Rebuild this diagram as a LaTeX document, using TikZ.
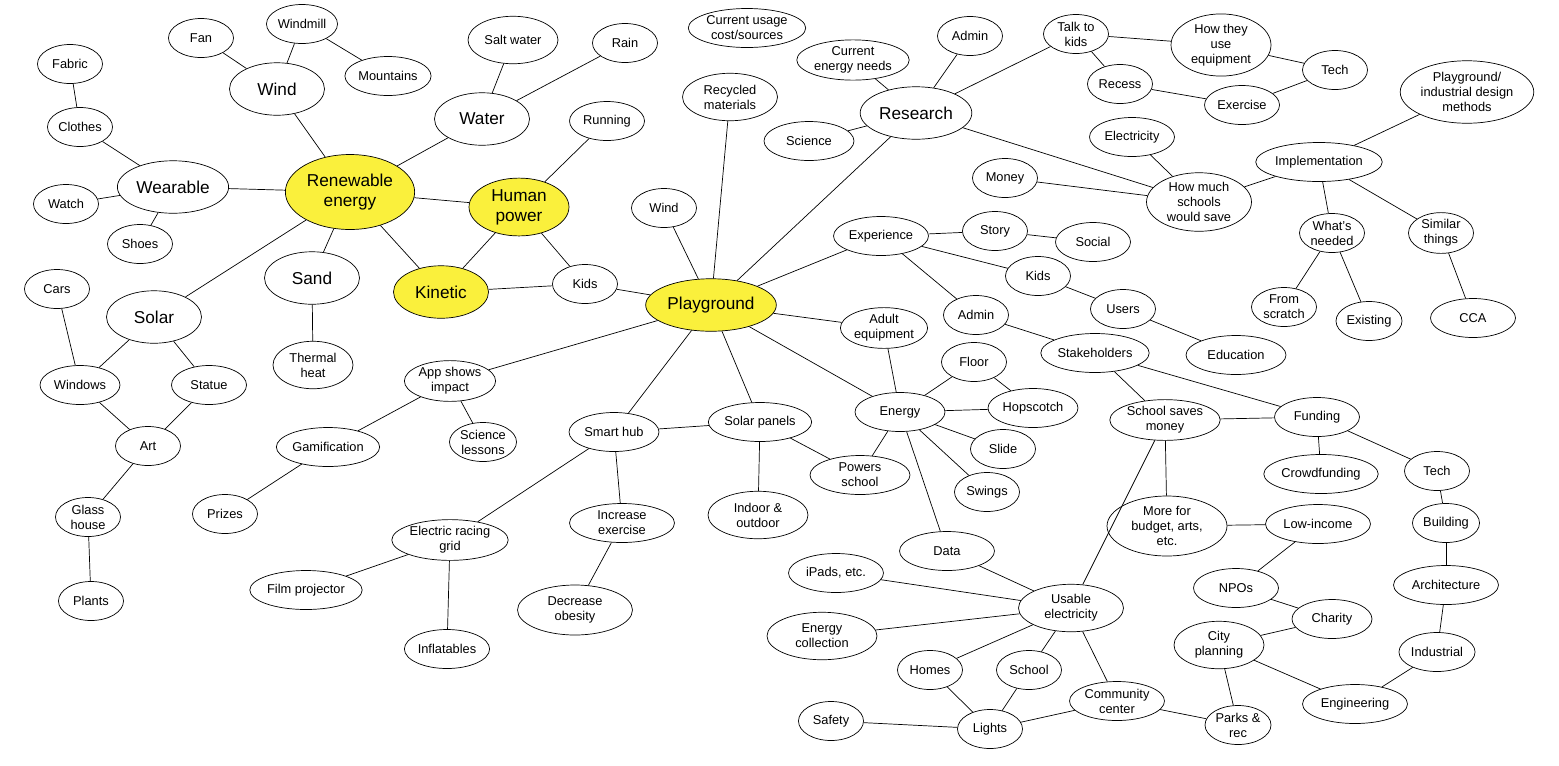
\documentclass[tikz,border=0pt]{standalone}
\usepackage{fontspec}
\setmainfont{Liberation Sans}
\usetikzlibrary{shapes.geometric}
\definecolor{hubcolor}{RGB}{250, 240, 60}

\begin{document}
\begin{tikzpicture}[
        x=0.02cm, y=-0.02cm,
        idea/.style={ellipse, draw, fill=white, align=center, inner sep=0.5pt, minimum height=0.78cm, minimum width=1.3cm, font=\fontsize{7.3}{8.6}\selectfont},
        big/.style={idea, inner sep=1.5pt, minimum height=1.05cm, minimum width=1.9cm, font=\fontsize{9.8}{11.5}\selectfont},
        hub/.style={big, fill=hubcolor},
        link/.style={draw, thin}
    ]
        \useasboundingbox (0,0) rectangle (1559,765);

        % Renewable energy side
        \node[idea] (fabric) at (70,64) {Fabric};
        \node[idea] (clothes) at (80,127) {Clothes};
        \node[big] (wearable) at (173,187) {Wearable};
        \node[idea] (watch) at (66,204) {Watch};
        \node[idea] (shoes) at (140,244) {Shoes};
        \node[idea] (fan) at (201,38) {Fan};
        \node[idea] (windmill) at (302,24) {Windmill};
        \node[idea] (mountains) at (388,76) {Mountains};
        \node[big] (wind) at (277,89) {Wind};
        \node[idea, minimum width=1.8cm, minimum height=0.95cm] (saltwater) at (513,40) {Salt water};
        \node[idea] (rain) at (625,43) {Rain};
        \node[big] (water) at (482,119) {Water};
        \node[hub, minimum width=2.55cm, minimum height=1.5cm] (renewable) at (350,192) {Renewable\\energy};
        \node[hub, minimum width=2cm, minimum height=1.1cm] (human) at (519,207) {Human\\power};
        \node[idea, minimum width=1.5cm] (running) at (607,121) {Running};
        \node[hub] (kinetic) at (441,292) {Kinetic};
        \node[idea] (kids) at (585,284) {Kids};
        \node[big] (sand) at (312,278) {Sand};
        \node[idea, minimum width=1.6cm, minimum height=0.95cm] (thermal) at (313,365) {Thermal\\heat};
        \node[big] (solar) at (154,317) {Solar};
        \node[idea] (cars) at (57,289) {Cars};
        \node[idea, minimum width=1.6cm] (windows) at (80,385) {Windows};
        \node[idea, minimum width=1.5cm] (statue) at (209,385) {Statue};
        \node[idea] (art) at (148,446) {Art};
        \node[idea] (glass) at (88,517) {Glass\\house};
        \node[idea] (plants) at (91,601) {Plants};

        % Playground side
        \node[hub, minimum width=2.4cm] (playground) at (711,305) {Playground};
        \node[idea, minimum width=1.9cm, minimum height=0.95cm] (recycled) at (730,97) {Recycled\\materials};
        \node[idea] (windb) at (664,208) {Wind};
        \node[idea] (app) at (450,381) {App shows\\impact};
        \node[idea, minimum width=1.8cm] (gamification) at (328,447) {Gamification};
        \node[idea] (lessons) at (483,442) {Science\\lessons};
        \node[idea] (prizes) at (225,514) {Prizes};
        \node[idea, minimum width=1.8cm] (smarthub) at (614,432) {Smart hub};
        \node[idea, minimum width=1.8cm] (panels) at (760,422) {Solar panels};
        \node[idea, minimum width=2cm] (powers) at (860,475) {Powers\\school};
        \node[idea, minimum width=2cm, minimum height=0.95cm] (indoor) at (758,515) {Indoor \&\\outdoor};
        \node[idea, minimum width=2.1cm] (increase) at (622,523) {Increase\\exercise};
        \node[idea, minimum width=2.3cm, minimum height=1.0cm] (obesity) at (575,610) {Decrease\\obesity};
        \node[idea, minimum width=2.3cm] (racing) at (450,540) {Electric racing\\grid};
        \node[idea, minimum width=2.2cm] (film) at (306,590) {Film projector};
        \node[idea, minimum width=1.7cm] (inflatables) at (447,649) {Inflatables};

        % Research
        \node[idea, minimum width=2.1cm] (usage) at (747,28) {Current usage\\cost/sources};
        \node[idea, minimum width=2.1cm] (needs) at (853,60) {Current\\energy needs};
        \node[idea] (admin) at (970,36) {Admin};
        \node[big] (research) at (916,113) {Research};
        \node[idea, minimum width=1.8cm] (science) at (809,141) {Science};
        \node[idea] (talk) at (1076,34) {Talk to\\kids};
        \node[idea, minimum width=2cm, minimum height=1.05cm] (howuse) at (1221,45) {How they\\use\\equipment};
        \node[idea] (tech) at (1335,70) {Tech};
        \node[idea] (recess) at (1120,84) {Recess};
        \node[idea, minimum width=1.5cm] (exercise) at (1242,105) {Exercise};
        \node[idea, minimum width=2.5cm, minimum height=1.25cm] (methods) at (1467,92) {Playground/\\industrial design\\methods};
        \node[idea, minimum width=1.7cm] (electricity) at (1132,137) {Electricity};
        \node[idea] (money) at (1005,178) {Money};
        \node[idea, minimum width=2.1cm, minimum height=1.15cm] (howmuch) at (1199,202) {How much\\schools\\would save};
        \node[idea, minimum width=2.1cm] (implement) at (1319,162) {Implementation};
        \node[idea] (whatneeded) at (1332,233) {What's\\needed};
        \node[idea] (similar) at (1441,233) {Similar\\things};
        \node[idea] (scratch) at (1284,307) {From\\scratch};
        \node[idea] (existing) at (1369,321) {Existing};
        \node[idea, minimum width=1.7cm] (cca) at (1473,318) {CCA};

        % Experience and energy
        \node[idea, minimum width=1.9cm] (experience) at (881,236) {Experience};
        \node[idea] (story) at (995,231) {Story};
        \node[idea, minimum width=1.5cm] (social) at (1093,242) {Social};
        \node[idea] (kidsb) at (1038,276) {Kids};
        \node[idea] (users) at (1123,309) {Users};
        \node[idea, minimum width=2cm] (education) at (1236,355) {Education};
        \node[idea] (adminb) at (976,315) {Admin};
        \node[idea, minimum width=2.1cm] (stakeholders) at (1095,353) {Stakeholders};
        \node[idea, minimum width=1.7cm] (adult) at (884,328) {Adult\\equipment};
        \node[idea] (floor) at (974,362) {Floor};
        \node[idea, minimum width=1.8cm] (energy) at (900,412) {Energy};
        \node[idea, minimum width=1.8cm] (hopscotch) at (1033,408) {Hopscotch};
        \node[idea] (slide) at (1003,449) {Slide};
        \node[idea] (swings) at (987,492) {Swings};
        \node[idea, minimum width=1.9cm] (data) at (947,551) {Data};
        \node[idea, minimum width=2.1cm] (saves) at (1165,420) {School saves\\money};
        \node[idea, minimum width=1.7cm] (funding) at (1317,417) {Funding};
        \node[idea, minimum width=2.1cm] (crowd) at (1321,474) {Crowdfunding};
        \node[idea] (techb) at (1437,471) {Tech};
        \node[idea] (building) at (1446,523) {Building};
        \node[idea, minimum width=2.4cm, minimum height=1.2cm] (budget) at (1167,526) {More for\\budget, arts,\\etc.};
        \node[idea, minimum width=2.1cm] (lowincome) at (1318,524) {Low-income};
        \node[idea, minimum width=1.7cm] (npos) at (1236,588) {NPOs};
        \node[idea, minimum width=1.6cm] (charity) at (1332,619) {Charity};
        \node[idea, minimum width=2.1cm] (architecture) at (1446,585) {Architecture};
        \node[idea] (industrial) at (1437,652) {Industrial};
        \node[idea, minimum width=2.1cm] (engineering) at (1355,704) {Engineering};
        \node[idea, minimum width=1.8cm, minimum height=0.95cm] (city) at (1219,645) {City\\planning};
        \node[idea] (parks) at (1238,725) {Parks \&\\rec};
        \node[idea, minimum width=1.9cm] (ipads) at (836,573) {iPads, etc.};
        \node[idea, minimum width=2.1cm, minimum height=0.95cm] (usable) at (1071,608) {Usable\\electricity};
        \node[idea, minimum width=2.2cm, minimum height=0.95cm] (collection) at (822,636) {Energy\\collection};
        \node[idea] (homes) at (930,670) {Homes};
        \node[idea] (school) at (1029,670) {School};
        \node[idea, minimum width=1.9cm] (community) at (1117,701) {Community\\center};
        \node[idea] (lights) at (990,729) {Lights};
        \node[idea] (safety) at (831,721) {Safety};

        % Connections
        \begin{scope}[on background layer/.style={}]
        \foreach \a/\b in {fabric/clothes, clothes/wearable, wearable/watch, wearable/shoes, wearable/renewable,
            fan/wind, windmill/wind, windmill/mountains, wind/renewable, saltwater/water, rain/water,
            water/renewable, renewable/human, renewable/kinetic, renewable/sand, renewable/solar,
            human/running, human/kinetic, human/kids, kinetic/kids, kids/playground, sand/thermal,
            cars/windows, solar/windows, solar/statue, windows/art, statue/art, art/glass, glass/plants,
            playground/recycled, playground/windb, playground/research, playground/experience,
            playground/adult, playground/energy, playground/panels, playground/smarthub, playground/app,
            app/gamification, app/lessons, gamification/prizes, smarthub/panels, smarthub/racing,
            smarthub/increase, increase/obesity, racing/film, racing/inflatables, panels/powers, panels/indoor,
            research/needs, research/admin, research/science, research/talk, research/howmuch,
            talk/howuse, talk/recess, howuse/tech, recess/exercise, exercise/tech,
            howmuch/electricity, howmuch/money, howmuch/implement, implement/methods,
            implement/whatneeded, implement/similar, whatneeded/scratch, whatneeded/existing, similar/cca,
            experience/story, story/social, experience/kidsb, kidsb/users, users/education,
            experience/adminb, adminb/stakeholders, stakeholders/saves, stakeholders/funding,
            adult/energy, energy/floor, energy/hopscotch, floor/hopscotch, energy/slide, energy/swings,
            energy/powers, energy/data, saves/funding, saves/budget, saves/usable,
            funding/crowd, funding/techb, techb/building, building/architecture, architecture/industrial,
            industrial/engineering, engineering/city, city/charity, city/parks, charity/npos,
            npos/lowincome, lowincome/budget, data/usable, ipads/usable, collection/usable,
            usable/homes, usable/school, usable/community, homes/lights, school/lights,
            lights/community, community/parks, safety/lights} {
            \draw[link] (\a) -- (\b);
        }
        \end{scope}
    \end{tikzpicture}
\end{document}
